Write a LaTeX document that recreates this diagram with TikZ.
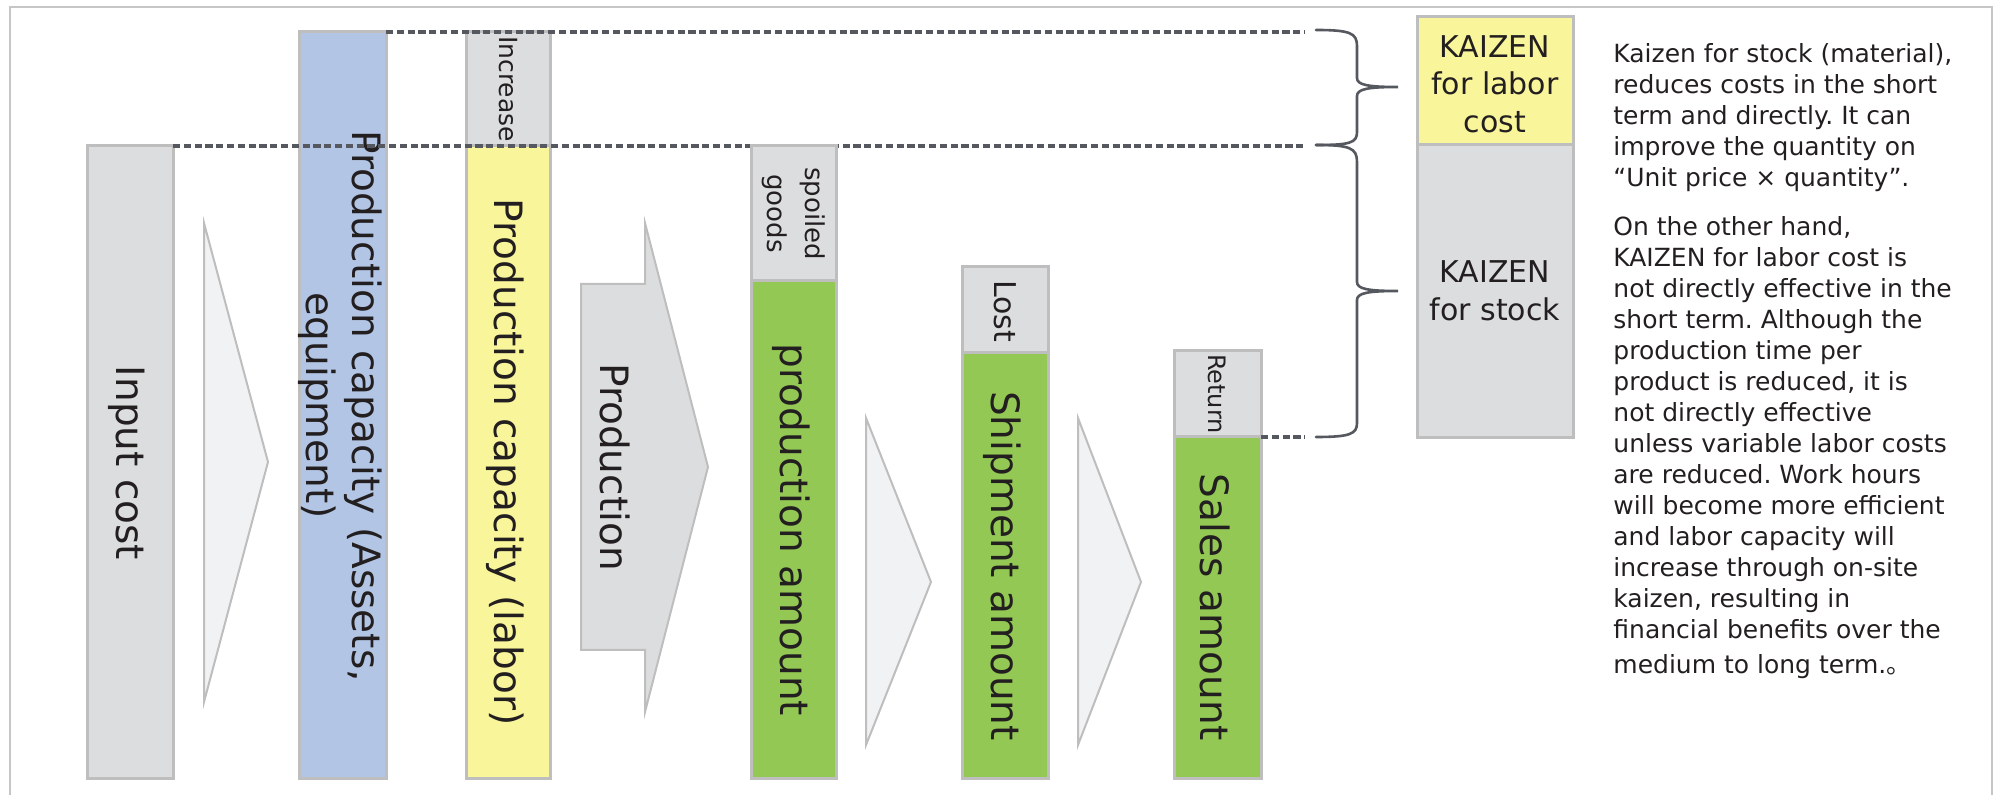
\documentclass[tikz,border=0pt]{standalone}
\usepackage{fontspec}
\setmainfont{DejaVu Sans}
\newfontfamily\cjkfont{Noto Sans CJK JP}
\frenchspacing
\definecolor{boxgray}{HTML}{DCDDDE}
\definecolor{boxline}{HTML}{BEBEBE}
\definecolor{boxblue}{HTML}{B2C5E4}
\definecolor{boxyellow}{HTML}{F8F59B}
\definecolor{boxgreen}{HTML}{92C853}
\definecolor{arrowfill}{HTML}{F1F2F3}
\definecolor{darkline}{HTML}{55585E}
\definecolor{framecol}{HTML}{C6C6C6}
\definecolor{textcol}{HTML}{231F20}
\begin{document}
\begin{tikzpicture}[x=0.5pt,y=-0.5pt,
  every node/.style={text=textcol},
  box/.style={draw=boxline, line width=1.5pt, inner sep=0pt, outer sep=0pt},
  vtext/.style={rotate=-90, inner sep=0pt, align=center},
  bigfont/.style={font=\fontsize{19.5}{23}\selectfont},
  flowarrow/.style={draw=boxline, line width=1pt, fill=arrowfill, line join=miter},
  dashline/.style={draw=darkline, line width=1.6pt, dash pattern=on 3.6pt off 1.8pt},
  bracestyle/.style={draw=darkline, line width=1.3pt, line cap=round}
]
\useasboundingbox (0,0) rectangle (1996,795);
% frame
\draw[framecol, line width=1.2pt] (10,810) -- (10,7) -- (1992,7) -- (1992,810);

% Input cost
\node[box, fill=boxgray, minimum width=43pt, minimum height=316pt] (ic) at (130,462) {};
\node[vtext, bigfont] (icT) at (127,463) {Input cost};

% arrow 1
\draw[flowarrow] (204,223) -- (268,462) -- (204,702) -- cycle;

% Production capacity (assets)
\node[box, fill=boxblue, minimum width=43.5pt, minimum height=373pt] (pa) at (342.5,405) {};
\node[vtext, bigfont] (paT) at (340,406) {Production capacity (Assets,\\equipment)};

% Increase + labor capacity
\node[box, fill=boxgray, minimum width=42pt, minimum height=57pt] (inc) at (508,89) {};
\node[vtext, font=\fontsize{12.5}{15}\selectfont] (incT) at (508,89) {Increase};
\node[box, fill=boxyellow, minimum width=42pt, minimum height=316pt] (pl) at (508,462) {};
\node[vtext, bigfont] (plT) at (505,462) {Production capacity (labor)};

% Production block arrow
\draw[flowarrow, fill=boxgray] (581,284) -- (645,284) -- (645,223) -- (708,467) -- (645,712) -- (645,650) -- (581,650) -- cycle;
\node[vtext, bigfont] (prT) at (615,467) {Production};

% dashed guide lines
\coordinate (dashend) at (1305,0);
\draw[dashline] (pa.north east) -- (pa.north east -| dashend);
\draw[dashline] (ic.north east) -- (ic.north east -| dashend);

% spoiled goods + production amount
\node[box, fill=boxgray, minimum width=42.5pt, minimum height=67.5pt] (sp) at (793.5,213.5) {};
\node[vtext, font=\fontsize{13}{19}\selectfont] (spT) at (793.5,213.5) {spoiled\\goods};
\node[box, fill=boxgreen, minimum width=42.5pt, minimum height=248.5pt] (pam) at (793.5,529.5) {};
\node[vtext, bigfont] (pamT) at (791,530) {production amount};

% arrow 2
\draw[flowarrow] (866,418) -- (931,582) -- (866,745) -- cycle;

% Lost + shipment amount
\node[box, fill=boxgray, minimum width=43pt, minimum height=43pt] (lost) at (1005,310) {};
\node[vtext, font=\fontsize{15}{17}\selectfont] (lostT) at (1005,311) {Lost};
\node[box, fill=boxgreen, minimum width=43pt, minimum height=212.5pt] (sa) at (1005,565.5) {};
\node[vtext, bigfont] (saT) at (1002,566) {Shipment amount};

% arrow 3
\draw[flowarrow] (1078,418) -- (1141,582) -- (1078,745) -- cycle;

% Return + sales amount
\node[box, fill=boxgray, minimum width=43.5pt, minimum height=43pt] (ret) at (1217.5,394) {};
\node[vtext, font=\fontsize{12}{14}\selectfont] (retT) at (1217.5,394) {Return};
\node[box, fill=boxgreen, minimum width=43.5pt, minimum height=170.5pt] (sal) at (1217.5,607.5) {};
\node[vtext, bigfont] (salT) at (1215,607) {Sales amount};
\draw[dashline] (ret.south east) -- (ret.south east -| dashend);

% braces
\draw[bracestyle] (1316,30) .. controls (1350,30) and (1357,33) .. (1357,46)
  -- (1357,78) .. controls (1357,85) and (1368,87) .. (1398,87)
  .. controls (1368,87) and (1357,89) .. (1357,96)
  -- (1357,132) .. controls (1357,143) and (1350,145) .. (1316,145);
\draw[bracestyle] (1316,145) .. controls (1350,145) and (1357,148) .. (1357,162)
  -- (1357,282) .. controls (1357,289) and (1368,291) .. (1398,291)
  .. controls (1368,291) and (1357,293) .. (1357,300)
  -- (1357,423) .. controls (1357,434) and (1350,437) .. (1316,437);

% KAIZEN boxes
\node[box, fill=boxyellow, minimum width=78pt, minimum height=64pt] (kl) at (1495,81) {};
\node[inner sep=0pt, align=center, font=\fontsize{15}{18.75}\selectfont] (klT) at (1495,84) {KAIZEN\\for labor\\cost};
\node[box, fill=boxgray, minimum width=78pt, minimum height=146.5pt] (ks) at (1495,291.5) {};
\node[inner sep=0pt, align=center, font=\fontsize{15}{18.75}\selectfont] (ksT) at (1495,291) {KAIZEN\\for stock};

% explanation text
\node[anchor=north west, inner sep=0pt, align=left, font=\fontsize{12.5}{15.5}\selectfont] (expl) at (1613,43) {Kaizen for stock (material),\\
reduces costs in the short\\
term and directly. It can\\
improve the quantity on\\
“Unit price × quantity”.\\[9pt]
On the other hand,\\
KAIZEN for labor cost is\\
not directly effective in the\\
short term. Although the\\
production time per\\
product is reduced, it is\\
not directly effective\\
unless variable labor costs\\
are reduced. Work hours\\
will become more efficient\\
and labor capacity will\\
increase through on-site\\
kaizen, resulting in\\
financial benefits over the\\[2pt]
medium to long term.{\cjkfont 。}};
\end{tikzpicture}
\end{document}
